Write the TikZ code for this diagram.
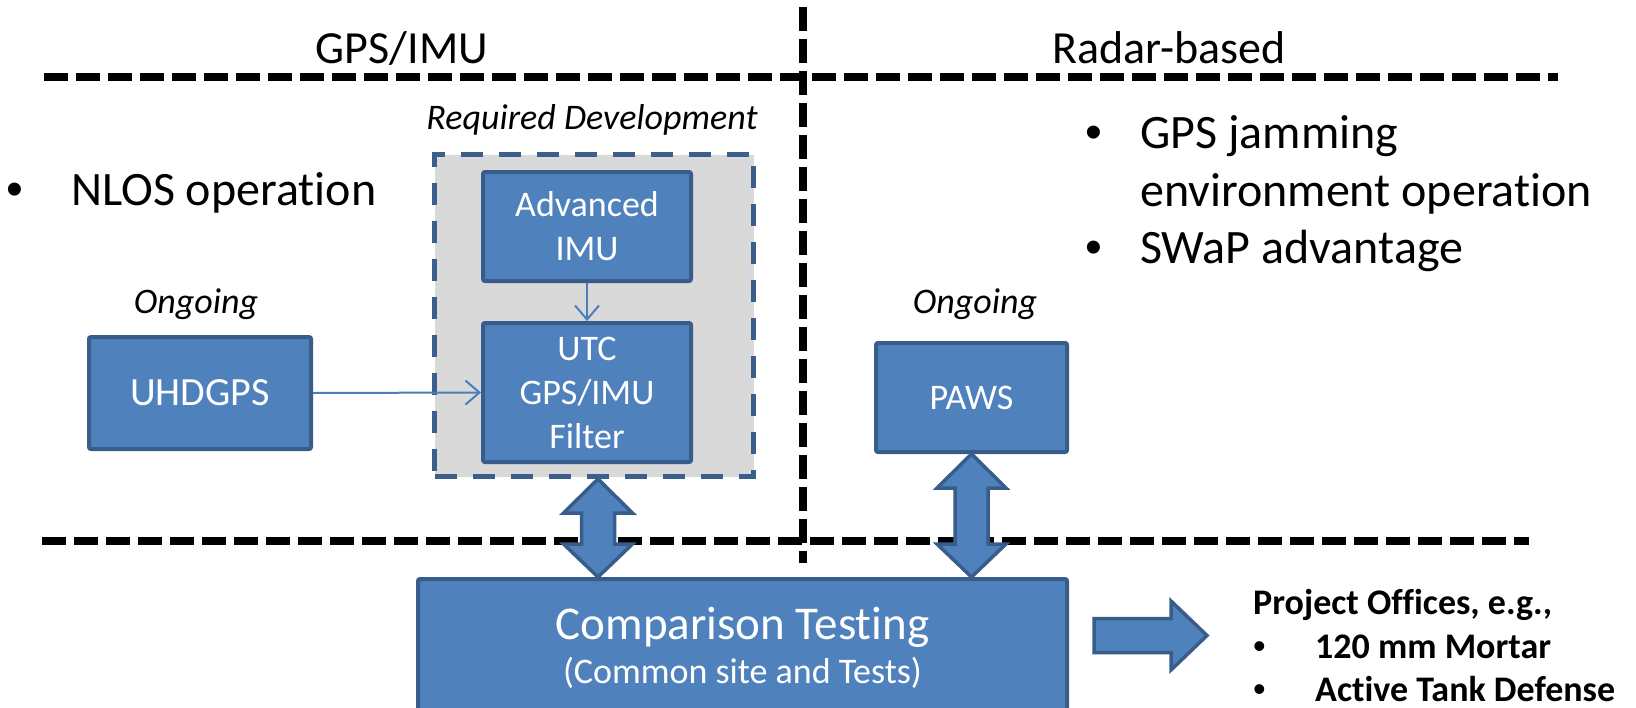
\documentclass[tikz,border=0pt]{standalone}
\usepackage{fontspec}
\setmainfont{Carlito}[Ligatures={NoCommon,NoContextual}]
\newfontfamily\arialf{Liberation Sans}
\usetikzlibrary{arrows.meta,calc}
\definecolor{boxfill}{HTML}{4F81BD}
\definecolor{boxline}{HTML}{385D8A}
\definecolor{thinblue}{HTML}{4A7EBB}
\definecolor{greyfill}{HTML}{D9D9D9}
\definecolor{dashblue}{HTML}{3A5F8B}
\begin{document}
\begin{tikzpicture}[x=1pt,y=-1pt,
  box/.style={draw=boxline, fill=boxfill, line width=4pt, rounded corners=2pt, text=white, align=center, inner sep=0pt, font=\fontsize{36}{44}\selectfont},
  devbox/.style={draw=dashblue, fill=greyfill, line width=5pt, dash pattern=on 22pt off 16pt, inner sep=0pt},
  divider/.style={line width=8pt, dash pattern=on 24pt off 8pt},
  thinarrow/.style={draw=thinblue, line width=2pt, -{Straight Barb[length=14pt,width=24pt]}},
  blockarrow/.style={draw=boxline, fill=boxfill, line width=3.5pt, line join=miter},
  head/.style={font=\fontsize{46}{55}\selectfont, anchor=base, inner sep=0pt},
  bul/.style={font=\fontsize{48}{57}\selectfont, anchor=base west, inner sep=0pt},
  bdot/.style={font=\fontsize{48}{57}\selectfont\arialf, anchor=base west, inner sep=0pt},
  lab/.style={font=\fontsize{36}{44}\selectfont\itshape, anchor=base, inner sep=0pt},
  po/.style={font=\fontsize{36}{44}\selectfont\bfseries, anchor=base west, inner sep=0pt},
  podot/.style={font=\fontsize{36}{44}\selectfont\arialf, anchor=base west, inner sep=0pt},
  cmptext/.style={text=white, anchor=base, inner sep=0pt}]
\useasboundingbox (0,0) rectangle (1636,707);
\clip (0,0) rectangle (1636,707);

% dividers
\coordinate (tl) at (44,77);
\coordinate (tr) at (1558,77);
\coordinate (bl) at (42,541);
\coordinate (br) at (1529,541);
\coordinate (vt) at (803,7);
\coordinate (vb) at (803,563);
\draw[divider] (tl) -- (tr);
\draw[divider] (bl) -- (br);
\draw[divider] (vt) -- (vb);

% headings
\node[head] (h1) at (402,63) {GPS/IMU};
\node[head] (h2) at (1169,63) {Radar-based};

% bullets
\node[bdot] (b1) at (6,205) {•};
\node[bul] (t1) at (71,205) {NLOS operation};
\node[bdot] (b2) at (1085,148) {•};
\node[bul] (t2) at (1140,148) {GPS jamming};
\node[bul] (t3) at (1140,206) {environment operation};
\node[bdot] (b4) at (1085,263) {•};
\node[bul] (t4) at (1140,263) {SWaP advantage};

% labels
\node[lab] (l1) at (592,129) {Required Development};
\node[lab] (l2) at (196,313) {Ongoing};
\node[lab] (l3) at (975,313) {Ongoing};

% boxes
\node[devbox, minimum width=319, minimum height=322] (rd) at (594,315.5) {};
\node[box, minimum width=208, minimum height=109] (adv) at (587,226.5) {Advanced\\IMU};
\node[box, minimum width=208, minimum height=139] (utc) at (587,392.5) {UTC\\GPS/IMU\\Filter};
\node[box, minimum width=222, minimum height=112, font=\fontsize{40}{48}\selectfont] (uhd) at (200,393) {UHDGPS};
\node[box, minimum width=191, minimum height=109] (paws) at (971.5,397.5) {PAWS};
\node[box, minimum width=649, minimum height=181] (cmp) at (742.5,669.5) {};
\node[cmptext, font=\fontsize{47}{56}\selectfont] (c1) at (742.5,639) {Comparison Testing};
\node[cmptext, font=\fontsize{36}{44}\selectfont] (c2) at (742.5,683) {(Common site and Tests)};

% thin arrows
\draw[thinarrow] (adv.south) -- (utc.north);
\draw[thinarrow] (uhd.east) -- (utc.west);

% double arrows
\path[blockarrow] let \p1=($(rd.south)+(4,0)$), \p2=(cmp.north) in
  (\x1,\y1) -- (\x1+34.5pt,\y1-34pt) -- (\x1+16.5pt,\y1-34pt) -- (\x1+16.5pt,\y2+33pt)
  -- (\x1+34.5pt,\y2+33pt) -- (\x1,\y2) -- (\x1-34.5pt,\y2+33pt) -- (\x1-16.5pt,\y2+33pt)
  -- (\x1-16.5pt,\y1-34pt) -- (\x1-34.5pt,\y1-34pt) -- cycle;
\path[blockarrow] let \p1=(paws.south), \p2=(cmp.north) in
  (\x1,\y1) -- (\x1+34.5pt,\y1-34pt) -- (\x1+16.5pt,\y1-34pt) -- (\x1+16.5pt,\y2+33pt)
  -- (\x1+34.5pt,\y2+33pt) -- (\x1,\y2) -- (\x1-34.5pt,\y2+33pt) -- (\x1-16.5pt,\y2+33pt)
  -- (\x1-16.5pt,\y1-34pt) -- (\x1-34.5pt,\y1-34pt) -- cycle;

% right block arrow
\coordinate (rs) at (1094,635.5);
\coordinate (rt) at (1207,635.5);
\path[blockarrow] let \p1=(rs), \p2=(rt) in
  (\x1,\y1+17pt) -- (\x2-36pt,\y1+17pt) -- (\x2-36pt,\y1+34.5pt) -- (\x2,\y1)
  -- (\x2-36pt,\y1-34.5pt) -- (\x2-36pt,\y1-17pt) -- (\x1,\y1-17pt) -- cycle;

% project offices
\node[po] (p1) at (1253,614) {Project Offices, e.g.,};
\node[podot] (pb1) at (1253,658) {•};
\node[po] (p2) at (1315,658) {120 mm Mortar};
\node[podot] (pb2) at (1253,701) {•};
\node[po] (p3) at (1315,701) {Active Tank Defense};
\end{tikzpicture}
\end{document}
